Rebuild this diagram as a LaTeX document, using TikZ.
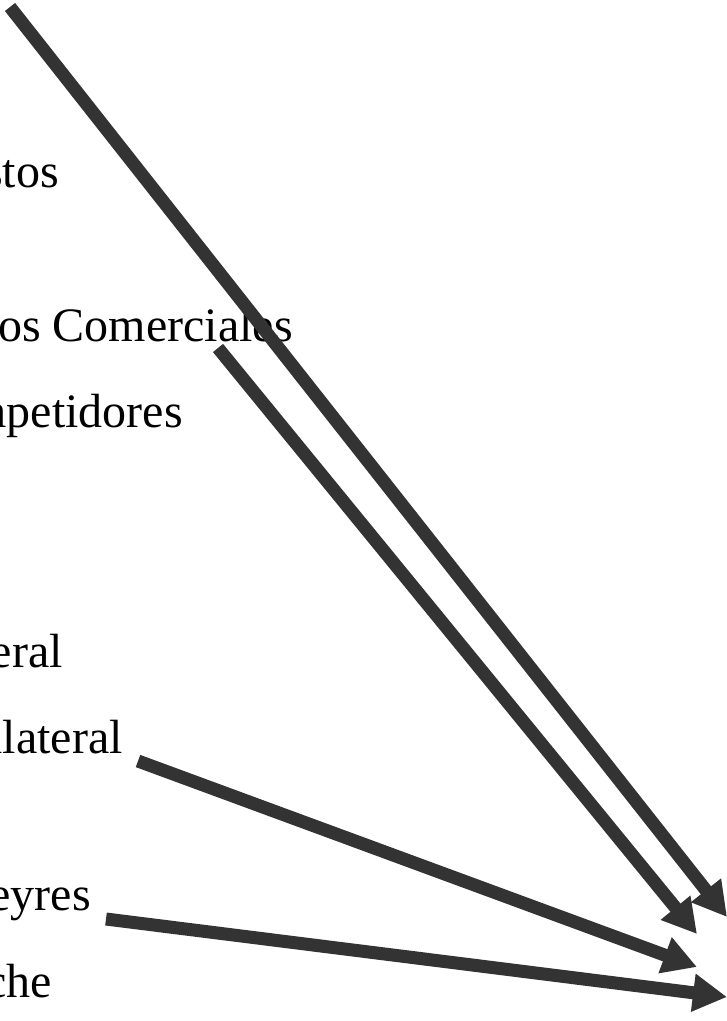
\documentclass[tikz,border=0pt]{standalone}
\usepackage{fontspec}
\setmainfont{Liberation Serif}
\usetikzlibrary{arrows.meta}
\definecolor{arrowgray}{RGB}{51,51,51}

\begin{document}
\begin{tikzpicture}
        [x=1pt,y=-1pt,every node/.style={inner sep=0,anchor=base east,font=\fontsize{48}{58}\selectfont}, link/.style={line width=13pt, arrowgray, -{Triangle[length=34pt,width=36pt]}}]

        \useasboundingbox (0,0) rectangle (727,1021);
        \clip (0,0) rectangle (727,1021);

        \node (t1) at (59,187) {stos};
        \node (t2) at (293,341) {os Comerciales};
        \node (t3) at (183,427) {mpetidores};
        \node (t4) at (63,667) {eral};
        \node (t5) at (123,753) {ilateral};
        \node (t6) at (91,910) {eyres};
        \node (t7) at (52,997) {che};

        \coordinate (a1) at (10,7);
        \coordinate (a2) at (218,348);
        \coordinate (a3) at (138,761);
        \coordinate (a4) at (106,919);
        \coordinate (h1) at (727,917);
        \coordinate (h2) at (697,934);
        \coordinate (h3) at (697,967);
        \coordinate (h4) at (727,997);

        \draw[link] (a1) -- (h1);
        \draw[link] (a2) -- (h2);
        \draw[link] (a3) -- (h3);
        \draw[link] (a4) -- (h4);
\end{tikzpicture}
\end{document}
